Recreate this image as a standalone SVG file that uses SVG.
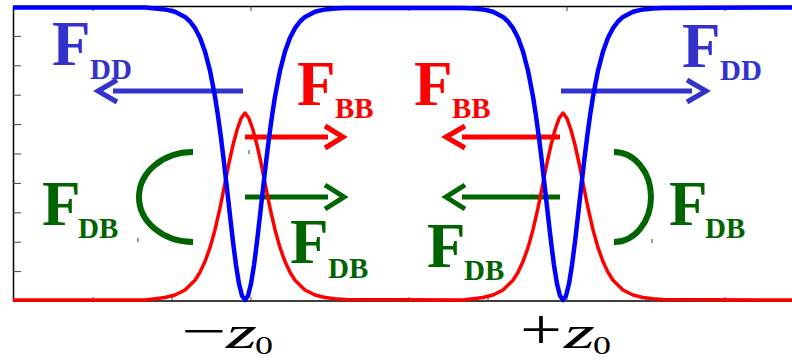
<svg xmlns="http://www.w3.org/2000/svg" width="792" height="360" viewBox="0 0 792 360">
<style>
.ax{stroke:#000;stroke-width:1.5;fill:none}
.tk{stroke:#444;stroke-width:1;fill:none}
.cb{stroke:#0000ff;stroke-width:4.5;fill:none;stroke-linejoin:round}
.cr{stroke:#ff0000;stroke-width:3.5;fill:none;stroke-linejoin:round}
.ar{fill:none;stroke-width:5;stroke-linecap:butt;stroke-linejoin:miter}
.dd{stroke:#3333cc}
.bb{stroke:#ff0000}
.db{stroke:#006400}
.arc{fill:none;stroke:#006400;stroke-width:6}
.dot{stroke:#006400;stroke-width:1}
.F{font-family:"Liberation Serif","Times New Roman",serif;font-weight:bold;font-size:63px}
.s{font-family:"Liberation Serif","Times New Roman",serif;font-weight:bold;font-size:29px}
.tdd{fill:#3333cc}
.tbb{fill:#ff0000}
.tdb{fill:#006400}
.m{font-family:"Liberation Serif","Times New Roman",serif;fill:#000}
</style>
<rect width="792" height="360" fill="#fff"/>
<g id="axes">
<path class="ax" d="M13.5,6.5 V301 H792 M13.5,6.5 H792"/>
<path class="tk" d="M13,36.4 h8 M13,65.8 h8 M13,95.2 h8 M13,124.6 h8 M13,154 h8 M13,183.4 h8 M13,212.8 h8 M13,242.2 h8 M13,271.6 h8"/>
<path class="tk" d="M93,7 v4 M172,7 v4 M251,7 v4 M330,7 v4 M409,7 v4 M488,7 v4 M567,7 v4 M646,7 v4 M725,7 v4"/>
<path class="tk" d="M93,301 v-4 M172,301 v-4 M251,301 v-4 M330,301 v-4 M409,301 v-4 M488,301 v-4 M567,301 v-4 M646,301 v-4 M725,301 v-4"/>
</g>
<g id="connectors">
<path class="ar dd" d="M243,91 H113 M117,80 L98,91 L117,102"/>
<path class="ar dd" d="M561,91 H692 M687,80 L706,91 L687,102"/>
<path class="ar bb" d="M245,137 H328 M325,126 L343,137 L325,148"/>
<path class="ar bb" d="M560,137 H462 M465,126 L446,137 L465,148"/>
<path class="ar db" d="M245,197 H328 M325,185 L344,197 L325,209"/>
<path class="ar db" d="M560,197 H462 M465,185 L446,197 L465,209"/>
<path class="arc" d="M193,152 A54,45 0 0 0 193,242"/>
<path class="arc" d="M614,152 A37,45 0 0 1 614,242"/>
<path class="dot" d="M249,150 v4 M577,150 v4 M138,238 v4 M652,239 v4"/>
</g>
<g id="curves">
<path id="red" class="cr" d="M13,300 L145,300 L155,298.8 L165,297.5 L175,295 L185,290 L195,280.2 L200,272.2 L205,261.6 L210,247.6 L215,229.7 L220,208 L225,183 L229,163 L233,145 L237,130 L241,118.5 L245,113 L249,118.5 L253,130 L257,145 L261,163 L265,183 L270,208 L275,229.7 L280,247.6 L285,261.6 L290,272.2 L295,280.2 L305,290 L315,295 L325,297.5 L335,298.8 L345,299.5 L463,300 L473,298.8 L483,297.5 L493,295 L503,290 L513,280.2 L518,272.2 L523,261.6 L528,247.6 L533,229.7 L538,208 L543,183 L547,163 L551,145 L555,130 L559,118.5 L563,113 L567,118.5 L571,130 L575,145 L579,163 L583,183 L588,208 L593,229.7 L598,247.6 L603,261.6 L608,272.2 L613,280.2 L623,290 L633,295 L643,297.5 L653,298.8 L663,299.5 L792,300"/>
<path id="blue" class="cb" d="M13,7.5 L145,7.6 L155,8.4 L165,9.4 L175,11.8 L185,16.9 L190,21.5 L195,28.2 L200,37.8 L205,51.5 L210,70.7 L215,96.7 L218,116 L221,137.9 L224,162.4 L227,188.7 L230,215.6 L233,241.8 L236,265.1 L239,283.8 L242,295.8 L245,300 L248,295.8 L251,283.8 L254,265.1 L257,241.8 L260,215.6 L263,188.7 L266,162.4 L269,137.9 L272,116 L275,96.7 L280,70.7 L285,51.5 L290,37.8 L295,28.2 L300,21.5 L305,16.9 L315,11.8 L325,9.4 L335,8.4 L345,7.9 L463,7.9 L473,8.4 L483,9.4 L493,11.8 L503,16.9 L508,21.5 L513,28.2 L518,37.8 L523,51.5 L528,70.7 L533,96.7 L536,116 L539,137.9 L542,162.4 L545,188.7 L548,215.6 L551,241.8 L554,265.1 L557,283.8 L560,295.8 L563,300 L566,295.8 L569,283.8 L572,265.1 L575,241.8 L578,215.6 L581,188.7 L584,162.4 L587,137.9 L590,116 L593,96.7 L598,70.7 L603,51.5 L608,37.8 L613,28.2 L618,21.5 L623,16.9 L633,11.8 L643,9.4 L653,8.4 L663,7.9 L792,7.5"/>
</g>
<g id="label-FDD-left"><text class="F tdd" x="52" y="65">F</text><text class="s tdd" x="90" y="79">DD</text></g>
<g id="label-FDD-right"><text class="F tdd" x="682" y="67">F</text><text class="s tdd" x="720" y="80">DD</text></g>
<g id="label-FBB-left"><text class="F tbb" x="297" y="105">F</text><text class="s tbb" x="335" y="118">BB</text></g>
<g id="label-FBB-right"><text class="F tbb" x="414" y="105">F</text><text class="s tbb" x="452" y="118">BB</text></g>
<g id="label-FDB-left-outer"><text class="F tdb" x="42" y="225">F</text><text class="s tdb" x="78" y="238">DB</text></g>
<g id="label-FDB-left-inner"><text class="F tdb" x="290" y="263">F</text><text class="s tdb" x="328" y="278">DB</text></g>
<g id="label-FDB-right-inner"><text class="F tdb" x="427" y="267">F</text><text class="s tdb" x="464" y="280">DB</text></g>
<g id="label-FDB-right-outer"><text class="F tdb" x="669" y="225">F</text><text class="s tdb" x="705" y="238">DB</text></g>
<g id="label-minus-z0">
<text class="m" x="181" y="348" font-size="50" textLength="45" lengthAdjust="spacingAndGlyphs">−</text>
<text class="m" x="226" y="348" font-size="47" font-style="italic" textLength="31" lengthAdjust="spacingAndGlyphs">z</text>
<text class="m" x="255" y="354" font-size="26" textLength="18" lengthAdjust="spacingAndGlyphs">0</text>
</g>
<g id="label-plus-z0">
<text class="m" x="520" y="349" font-size="56" textLength="42" lengthAdjust="spacingAndGlyphs">+</text>
<text class="m" x="564" y="348" font-size="47" font-style="italic" textLength="31" lengthAdjust="spacingAndGlyphs">z</text>
<text class="m" x="593" y="354" font-size="26" textLength="18" lengthAdjust="spacingAndGlyphs">0</text>
</g>
</svg>
